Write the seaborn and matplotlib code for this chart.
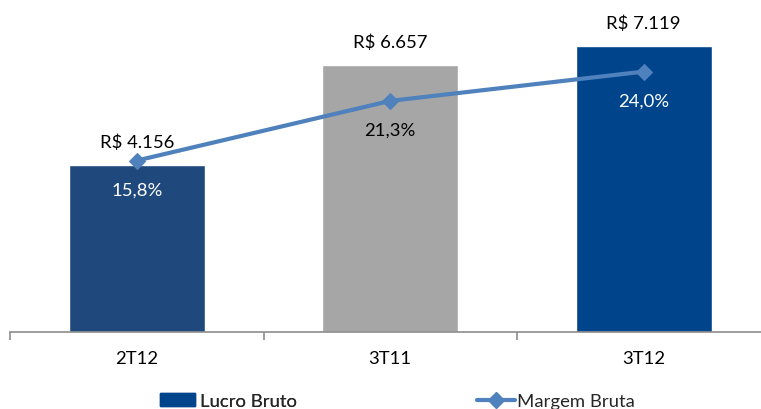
import numpy as np
import pandas as pd
import matplotlib
matplotlib.use("Agg")
import matplotlib.pyplot as plt
import seaborn as sns
from matplotlib.patches import Patch
from matplotlib.lines import Line2D

categories = ["2T12", "3T11", "3T12"]
lucro_bruto = [4156, 6657, 7119]
margem_bruta = [15.8, 21.3, 24.0]
lucro_labels = ["R$ 4.156", "R$ 6.657", "R$ 7.119"]
margem_labels = ["15,8%", "21,3%", "24,0%"]
bar_colors = ["#1F497D", "#A6A6A6", "#00448C"]
pct_text_colors = ["white", "black", "white"]

sns.set_theme(style="white")
plt.rcParams["font.family"] = ["Lato", "DejaVu Sans"]
FS = 13.3

fig = plt.figure(figsize=(7.61, 4.10), dpi=100)
W, H = 761, 410
ax = fig.add_axes([10 / W, 1 - 333 / H, 751 / W, 328 / H])

df = pd.DataFrame({"cat": categories, "val": lucro_bruto})
sns.barplot(data=df, x="cat", y="val", hue="cat", palette=bar_colors,
            width=0.535, legend=False, ax=ax, saturation=1)
ax.set_xlabel("")
ax.set_ylabel("")
ax.set_yticks([])
for s in ["top", "right", "left"]:
    ax.spines[s].set_visible(False)
ax.spines["bottom"].set_color("#8C8C8C")
ax.spines["bottom"].set_linewidth(1.2)
ax.set_xticks(range(len(categories)))
ax.set_xticklabels(categories, fontsize=FS, color="black")
ax.set_xticks([-0.5, 0.5, 1.5, 2.5], minor=True)
ax.tick_params(axis="x", which="major", length=0, pad=13)
ax.tick_params(axis="x", which="minor", length=6, width=1.2, color="#8C8C8C", bottom=True)

for i, (v, lab) in enumerate(zip(lucro_bruto, lucro_labels)):
    ax.annotate(lab, (i, v), xytext=(0, 23), textcoords="offset pixels",
                ha="center", va="center", fontsize=FS, color="black")

ax2 = ax.twinx()
sns.lineplot(x=np.arange(len(categories)), y=margem_bruta, ax=ax2,
             color="#4F81BD", linewidth=3, marker="D", markersize=8,
             markeredgecolor="#4F81BD")
ax2.set_yticks([])
for s in ["top", "right", "left", "bottom"]:
    ax2.spines[s].set_visible(False)

for i, (v, lab, c) in enumerate(zip(margem_bruta, margem_labels, pct_text_colors)):
    ax2.annotate(lab, (i, v), xytext=(0, -29), textcoords="offset pixels",
                 ha="center", va="center", fontsize=FS, color=c)

xl = (-0.5, -0.5 + 751 / 253.5)
ax.set_xlim(*xl)
ax2.set_xlim(*xl)
ax.set_ylim(0, 328 / 0.04018)
ax2.set_ylim(0, 328 / 10.85)

px = FS * 100 / 72
leg1 = fig.legend([Patch(facecolor="#00448C", edgecolor="#00448C")], ["Lucro Bruto"],
                  loc="center left", bbox_to_anchor=(160 / W, 1 - 402 / H),
                  frameon=False, fontsize=FS, borderpad=0, borderaxespad=0,
                  handlelength=35 / px, handletextpad=5 / px, handleheight=0.75)
leg2 = fig.legend([Line2D([0], [0], color="#4F81BD", linewidth=3, marker="D",
                          markersize=8)], ["Margem Bruta"],
                  loc="center left", bbox_to_anchor=(477 / W, 1 - 402 / H),
                  frameon=False, fontsize=FS, borderpad=0, borderaxespad=0,
                  handlelength=38 / px, handletextpad=2 / px)
fig.add_artist(leg1)

fig.savefig("out.png", dpi=100)
